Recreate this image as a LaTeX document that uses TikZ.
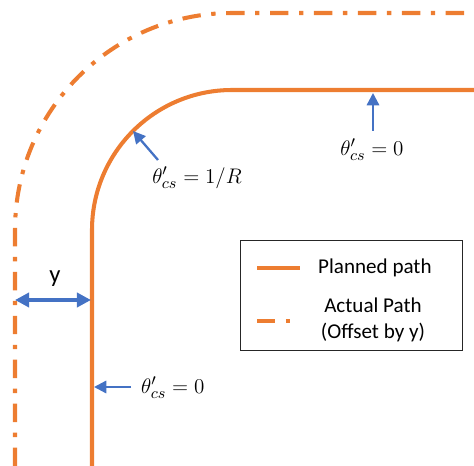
\documentclass[tikz,border=0pt]{standalone}
\usepackage{fontspec}
\setsansfont{Carlito}
\usetikzlibrary{positioning, calc, arrows.meta}
\definecolor{pathorange}{HTML}{ED7D31}
\definecolor{arrowblue}{HTML}{4472C4}

\begin{document}
\begin{tikzpicture}[x=0.02cm, y=-0.02cm,
    planned/.style={pathorange, line width=2.3pt},
    actual/.style={pathorange, line width=2.3pt, dash pattern=on 10.5pt off 6pt on 2.5pt off 6pt},
    pointer/.style={arrowblue, line width=1.3pt, -{Triangle[length=7pt, width=7pt]}},
    lbl/.style={font=\fontsize{12.5}{14}\selectfont},
    legtext/.style={font=\sffamily\fontsize{12}{15}\selectfont, align=center}]
    \useasboundingbox (0,0) rectangle (474,466);
    % the two paths
    \draw[planned] (92,466) -- (92,230) arc[start angle=180, end angle=270, radius=140] -- (474,90);
    \draw[actual] (15,466) -- (15,230) arc[start angle=180, end angle=270, radius=217] -- (474,13);
    % points on the planned path
    \coordinate (arcpt) at ($(232,230)+(225:140)$);
    \coordinate (toppt) at (373,93);
    \coordinate (sidept) at (94,387);
    \coordinate (arctail) at (158,160);
    \coordinate (toptail) at (373,131);
    \coordinate (sidetail) at (131,387);
    \node[lbl] (arclabel) at (197,178) {$\theta'_{cs}=1/R$};
    \node[lbl] (toplabel) at (372,150) {$\theta'_{cs}=0$};
    \node[lbl, anchor=west] (sidelabel) at (135,388) {$\theta'_{cs}=0$};
    \draw[pointer] (arctail) -- (arcpt);
    \draw[pointer] (toptail) -- (toppt);
    \draw[pointer] (sidetail) -- (sidept);
    % offset y
    \coordinate (offl) at (15,300);
    \coordinate (offr) at (91,300);
    \draw[arrowblue, line width=2.2pt, {Triangle[length=8pt, width=8pt]}-{Triangle[length=8pt, width=8pt]}] (offl) -- (offr);
    \node[font=\sffamily\fontsize{14}{16}\selectfont] (ylabel) at (55,279) {y};
    % legend
    \node[draw=black!85, line width=0.8pt, minimum width=4.44cm, minimum height=2.2cm, anchor=north west] (legend) at (240,240) {};
    \draw[planned] (257,268) -- (300,268);
    \draw[actual] (257,321) -- (300,321);
    \node[legtext, anchor=west] (plannedtext) at (312,268) {Planned path};
    \node[legtext] (actualtext) at (373,320) {Actual Path\\(Offset by y)};
\end{tikzpicture}
\end{document}
